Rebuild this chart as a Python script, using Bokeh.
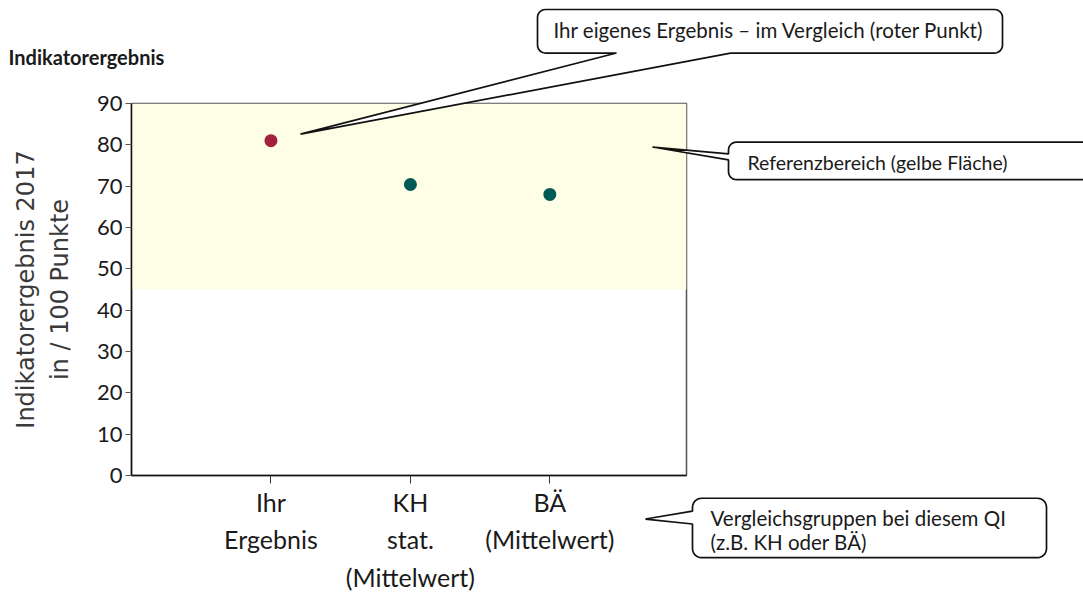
import numpy as np
from bokeh.plotting import figure
from bokeh.models import Range1d, FixedTicker
from bokeh.core.properties import value
from bokeh.embed import file_html
from bokeh.resources import INLINE

# ---- data ----
categories = ["Ihr\nErgebnis", "KH\nstat.\n(Mittelwert)", "BÄ\n(Mittelwert)"]
positions = [1, 2, 3]
values = [81.0, 70.4, 68.0]
point_colors = ["#A3213A", "#005A55", "#005A55"]
ref_low, ref_high = 45, 90
y_ticks = [0, 10, 20, 30, 40, 50, 60, 70, 80, 90]

title_text = "Indikatorergebnis"
y_label = "Indikatorergebnis 2017\nin / 100 Punkte"
callout_own = "Ihr eigenes Ergebnis – im Vergleich (roter Punkt)"
callout_ref = "Referenzbereich (gelbe Fläche)"
callout_grp = ["Vergleichsgruppen bei diesem QI", "(z.B. KH oder BÄ)"]

X0, X1 = 0.0, 3.98
Y0, Y1 = 0.0, 90.0

# frame placement on the page (pixels)
FL, FT, FR, FB = 131, 103, 686, 479
W, H = 1083, 594

p = figure(width=W, height=H, output_backend="svg", toolbar_location=None,
           x_range=Range1d(X0, X1), y_range=Range1d(Y0, Y1),
           min_border_left=FL, min_border_right=W - FR,
           min_border_top=FT, min_border_bottom=H - FB)
p.background_fill_color = "white"
p.border_fill_color = "white"
p.outline_line_color = "#555555"
p.outline_line_width = 1.5
p.xgrid.visible = False
p.ygrid.visible = False

# reference band
p.quad(left=[X0], right=[X1], bottom=[ref_low], top=[ref_high],
       fill_color="#FEFDE6", line_color=None)

# points
p.scatter(positions, values, size=13, color=point_colors, line_color=None)

# y axis
ya = p.yaxis[0]
ya.ticker = FixedTicker(ticks=y_ticks)
ya.major_tick_out = 6
ya.major_tick_in = 0
ya.minor_tick_out = 0
ya.minor_tick_in = 0
ya.axis_line_color = "#111111"
ya.axis_line_width = 1.5
ya.major_tick_line_color = "#555555"
ya.major_label_text_font = "Lato"
ya.major_label_text_font_size = "22px"
ya.major_label_text_color = "#1a1a1a"
ya.major_label_standoff = 3
ya.axis_label = y_label
ya.axis_label_text_font = "DejaVu Sans"
ya.axis_label_text_font_size = "24px"
ya.axis_label_text_font_style = "normal"
ya.axis_label_text_color = "#3a3a3a"
ya.axis_label_text_line_height = 1.2
ya.axis_label_standoff = 20

# x axis
xa = p.xaxis[0]
xa.ticker = FixedTicker(ticks=positions)
xa.major_label_overrides = {pos: lab for pos, lab in zip(positions, categories)}
xa.major_tick_out = 8
xa.major_tick_in = 0
xa.minor_tick_out = 0
xa.minor_tick_in = 0
xa.axis_line_color = "#111111"
xa.axis_line_width = 1.5
xa.major_tick_line_color = "#333333"
xa.major_label_text_font = "Lato"
xa.major_label_text_font_size = "25px"
xa.major_label_text_color = "#1a1a1a"
xa.major_label_text_line_height = 1.25
xa.major_label_standoff = 3


# ---- annotation geometry (page pixels -> data coordinates, drawn unclipped) ----
def dx(px):
    return X0 + (px - FL) * (X1 - X0) / (FR - FL)


def dy(py):
    return Y0 + (FB - py) * (Y1 - Y0) / (FB - FT)


def bubble(x0, y0, x1, y1, r, edge, a, b, tip, n=7):
    pts = []

    def arc(cx, cy, t0, t1):
        for t in np.linspace(t0, t1, n):
            pts.append((cx + r * np.cos(t), cy + r * np.sin(t)))

    arc(x0 + r, y0 + r, np.pi, 1.5 * np.pi)
    arc(x1 - r, y0 + r, 1.5 * np.pi, 2 * np.pi)
    arc(x1 - r, y1 - r, 0, 0.5 * np.pi)
    if edge == "bottom":
        pts += [(b, y1), tip, (a, y1)]
    arc(x0 + r, y1 - r, 0.5 * np.pi, np.pi)
    if edge == "left":
        pts += [(x0, b), tip, (x0, a)]
    pts.append(pts[0])
    return [dx(q[0]) for q in pts], [dy(q[1]) for q in pts]


bubbles = [
    bubble(537, 8, 1002, 52, 8, "bottom", 616, 730, (300, 134)),
    bubble(728, 142, 1130, 180, 8, "left", 154, 160, (652, 147)),
    bubble(692, 502, 1046, 562, 9, "left", 515, 528, (645, 523)),
]
for xs, ys in bubbles:
    p.patch(xs, ys, fill_color="white", fill_alpha=1.0,
            line_color="#111111", line_width=1.7, level="overlay")

texts = [
    (553, 29, callout_own, "20.5px", "normal"),
    (747, 163, callout_ref, "19.5px", "normal"),
    (710, 522, callout_grp[0], "20.5px", "normal"),
    (710, 546, callout_grp[1], "20.5px", "normal"),
    (8, 56, title_text, "20px", "bold"),
]
for px, py, txt, size, style in texts:
    p.text(x=[dx(px)], y=[dy(py)], text=[txt], text_font=value("Lato"),
           text_font_size=value(size), text_font_style=style,
           text_color="#1a1a1a", text_baseline="middle", text_align="left",
           level="overlay")

open("out.html", "w").write(file_html(p, INLINE))
